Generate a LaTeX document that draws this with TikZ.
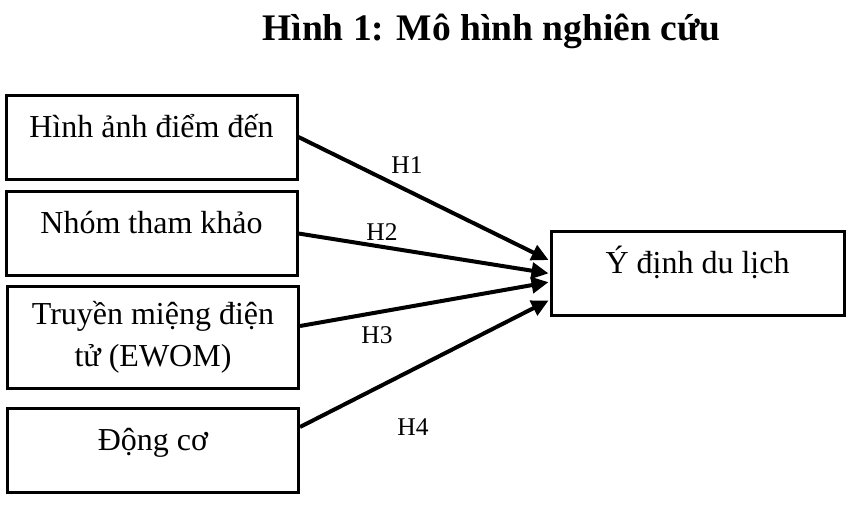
\documentclass[tikz,border=0pt]{standalone}
\usepackage{fontspec}
\setmainfont{Liberation Serif}
\usetikzlibrary{arrows.meta}

\begin{document}
\begin{tikzpicture}[x=1pt,y=-1pt]
\useasboundingbox (0,0) rectangle (852,504);
\tikzstyle{factor}=[draw, line width=3pt, minimum width=291pt, inner sep=0pt, font=\fontsize{32}{42}\selectfont];
\tikzstyle{oneline}=[text height=42pt, text depth=42pt];
\tikzstyle{hyp}=[anchor=base, font=\fontsize{25.5}{30}\selectfont];
\tikzstyle{effect}=[line width=4pt, shorten >=1pt, -{Triangle[length=17pt,width=16pt]}];

\draw (491.5,40) node[anchor=base, font=\bfseries\fontsize{37.5}{45}\selectfont] (title) {Hình 1: Mô hình nghiên cứu};

\draw (151.5,137) node[factor, oneline] (img) {Hình ảnh điểm đến};
\draw (151.5,233.5) node[factor, oneline] (ref) {Nhóm tham khảo};
\draw (153,337) node[factor, minimum height=102pt, align=center] (ewom) {Truyền miệng điện\\tử (EWOM)};
\draw (153,450) node[factor, oneline] (motive) {Động cơ};
\draw (697.5,273.5) node[factor, oneline, minimum width=293pt] (intent) {Ý định du lịch};

\draw[effect] (img.east) -- ([yshift=13pt]intent.west);
\draw[effect] (ref.east) -- (intent.west);
\draw[effect] ([yshift=11pt]ewom.east) -- ([yshift=-8.5pt]intent.west);
\draw[effect] ([yshift=23pt]motive.east) -- ([yshift=-26.5pt]intent.west);

\draw (407,173) node[hyp] (h1) {H1};
\draw (382,240) node[hyp] (h2) {H2};
\draw (377,343) node[hyp] (h3) {H3};
\draw (413,435) node[hyp] (h4) {H4};
\end{tikzpicture}
\end{document}
